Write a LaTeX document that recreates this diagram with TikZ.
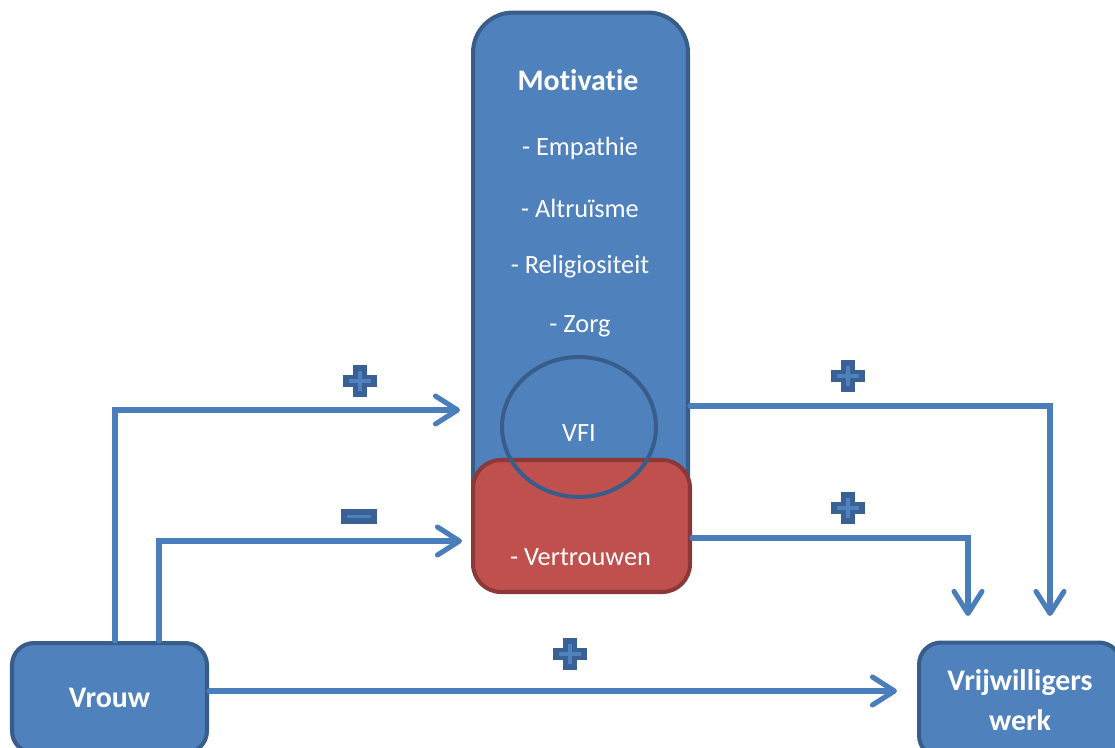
\documentclass[tikz,border=0pt]{standalone}
\usepackage{fontspec}
\setmainfont{Carlito}[Ligatures = NoCommon]
\usetikzlibrary{arrows.meta,shapes.geometric}
\definecolor{boxblue}{HTML}{4F81BD}
\definecolor{boxedge}{HTML}{385D8A}
\definecolor{boxred}{HTML}{C0504D}
\definecolor{rededge}{HTML}{8C3836}
\definecolor{linkblue}{HTML}{4A7EBB}
\definecolor{signdark}{HTML}{3A6195}

\begin{document}
\begin{tikzpicture}[x = 0.02cm, y = -0.02cm,
  bluebox/.style = {draw = boxedge, fill = boxblue, line width = 2.3pt},
  label/.style = {text = white, font = \fontsize{15}{17}\selectfont},
  head/.style = {text = white, font = \fontsize{17}{23}\selectfont\bfseries, align = center},
  link/.style = {draw = linkblue, line width = 2.9pt, line cap = round,
    -{Straight Barb[length = 0.44cm, width = 0.56cm, round]}}]
\useasboundingbox (0, 0) rectangle (1115, 747);
\clip (0, 0) rectangle (1115, 747);

\node[bluebox, rounded corners = 0.8cm, minimum width = 4.3cm, minimum height = 11.56cm]
  (motivatie) at (580.5, 301.5) {};
\node[draw = rededge, fill = boxred, line width = 2.3pt, rounded corners = 0.56cm,
  minimum width = 4.34cm, minimum height = 2.64cm] (vertrouwen) at (581.5, 526) {};
\node[ellipse, draw = boxedge, line width = 2.3pt, minimum width = 3.08cm,
  minimum height = 2.8cm] (vfi) at (579, 427) {};

\node[head] (title) at (578, 80) {Motivatie};
\node[label] (empathie) at (580, 148) {- Empathie};
\node[label] (altruisme) at (580, 208) {- Altruïsme};
\node[label] (religie) at (580, 267) {- Religiositeit};
\node[label] (zorg) at (580, 326) {- Zorg};
\node[label] (vfitext) at (579, 433) {VFI};
\node[label] (vertrtext) at (580.5, 557) {- Vertrouwen};

\node[bluebox, rounded corners = 0.44cm, minimum width = 3.9cm, minimum height = 2.2cm]
  (vrouw) at (109.5, 698) {};
\node[head] at (vrouw) {Vrouw};
\node[bluebox, rounded corners = 0.44cm, minimum width = 4.04cm, minimum height = 2.3cm]
  (werk) at (1020, 700) {};
\node[head] at (werk) {Vrijwilligers\\werk};

\coordinate (tipA) at (1050, 616);
\coordinate (tipB) at (968, 616);
\coordinate (tipC) at (897, 691);

\draw[link] (vrouw.north -| 115, 0) |- ([xshift = -0.22cm] motivatie.west |- 0, 410);
\draw[link] (vrouw.north -| 159, 0) |- ([xshift = -0.18cm] vertrouwen.west |- 0, 541);
\draw[link] (vrouw.east |- 0, 691) -- (tipC);
\draw[link] (motivatie.east |- 0, 406) -| (tipA);
\draw[link] (vertrouwen.east |- 0, 538) -| (tipB);

\foreach \px/\py in {360/381, 848/376, 848/508, 570/654}{
  \fill[signdark] (\px-17, \py-6) rectangle (\px+17, \py+6);
  \fill[signdark] (\px-7, \py-16) rectangle (\px+7, \py+16);
  \draw[boxblue, line width = 2.2pt] (\px-11, \py) -- (\px+11, \py);
  \draw[boxblue, line width = 2.2pt] (\px, \py-10) -- (\px, \py+10);
}
\fill[signdark] (341, 509) rectangle (377, 524);
\draw[boxblue, line width = 2.2pt] (347, 516.5) -- (371, 516.5);
\end{tikzpicture}
\end{document}
